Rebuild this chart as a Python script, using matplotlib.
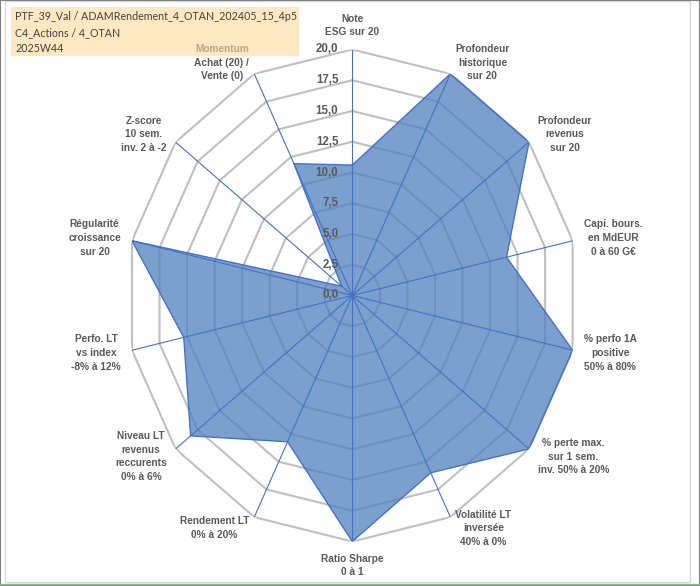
import numpy as np
import matplotlib
matplotlib.use('Agg')
from matplotlib import pyplot as plt
from matplotlib import patches, lines, transforms

# axes of the radar, clockwise from the top
categories = ['Note\nESG sur 20',
              'Profondeur\nhistorique\nsur 20',
              'Profondeur\nrevenus\nsur 20',
              'Capi. bours.\nen MdEUR\n0 à 60 G€',
              '% perfo 1A\npositive\n50% à 80%',
              '% perte max.\nsur 1 sem.\ninv. 50% à 20%',
              'Volatilité LT\ninversée\n40% à 0%',
              'Ratio Sharpe\n0 à 1',
              'Rendement LT\n0% à 20%',
              'Niveau LT\nrevenus\nreccurents\n0% à 6%',
              'Perfo. LT\nvs index\n-8% à 12%',
              'Régularité\ncroissance\nsur 20',
              'Z-score\n10 sem.\ninv. 2 à -2',
              'Momentum\nAchat (20) /\nVente (0)']
scores = [10.6, 20.0, 20.0, 14.0, 20.0, 20.0, 16.0, 20.0, 13.2, 18.3, 15.3, 20.0, 1.2, 11.9]
levels = [0.0, 2.5, 5.0, 7.5, 10.0, 12.5, 15.0, 17.5, 20.0]
title_lines = ['PTF_39_Val / ADAMRendement_4_OTAN_202405_15_4p5',
               'C4_Actions / 4_OTAN',
               '2025W44']

label_grey = '#595959'
fill_blue = '#4F81BD'
line_blue = '#4472C4'
grid_grey = '#BFBFBF'

W, H = 700, 586
fig = plt.figure(figsize=(W / 100, H / 100), dpi=100)
fig.patch.set_facecolor('white')

# plot area: the source image is squeezed horizontally, so the radar is an ellipse
cx, cy, rx, ry = 352.3, 295.5, 226, 246
ax = fig.add_axes([(cx - rx) / W, (H - cy - ry) / H, 2 * rx / W, 2 * ry / H],
                  projection='polar')
ax.set_aspect('auto')
ax.set_theta_zero_location('N')
ax.set_theta_direction(-1)
ax.set_ylim(0, 20)
ax.grid(False)
ax.set_xticks([])
ax.set_yticks([])
ax.spines['polar'].set_visible(False)
ax.patch.set_alpha(0)

n = len(categories)
angles = np.linspace(0, 2 * np.pi, n, endpoint=False)
closed = np.append(angles, angles[0])

for lvl in levels[1:]:
    ax.plot(closed, [lvl] * (n + 1), color=grid_grey, lw=1.5, zorder=1)

vals = np.append(scores, scores[0])
ax.fill(closed, vals, color=fill_blue, alpha=0.75, lw=0, zorder=2)
for a in angles:
    ax.plot([a, a], [0, 20], color=line_blue, lw=0.8, zorder=3)
ax.plot(closed, vals, color=line_blue, lw=1.0, zorder=4)

# category labels
for a, lab in zip(angles, categories):
    s = np.sin(a)
    if s > 0.1:
        ha, va = 'left', 'center'
    elif s < -0.1:
        ha, va = 'right', 'center'
    else:
        ha = 'center'
        va = 'bottom' if np.cos(a) > 0 else 'top'
    ax.text(a, 21, lab, ha=ha, va=va, multialignment='center',
            fontsize=7.3, fontweight='bold', color=label_grey,
            family='Liberation Sans', linespacing=1.45, clip_on=False, zorder=5)

# radial value labels, left of the vertical axis
tick_tr = transforms.offset_copy(ax.transData, fig=fig, x=-14, y=0, units='dots')
for lvl in levels:
    ax.text(0, lvl, f'{lvl:.1f}'.replace('.', ','), transform=tick_tr,
            ha='right', va='center', fontsize=8.3, fontweight='bold',
            color=label_grey, family='Liberation Sans', clip_on=False, zorder=5)

# title box (semi transparent, lies over the Momentum label)
fig.patches.append(patches.Rectangle((11 / W, 1 - 56 / H), 288 / W, 49 / H,
                                     transform=fig.transFigure, facecolor='#FCDA99',
                                     alpha=0.6, edgecolor='none', zorder=10))
for i, t in enumerate(title_lines):
    fig.text(15 / W, 1 - (16.7 + 15.8 * i) / H, t, ha='left', va='center',
             fontsize=7.7, color='#404040', family='Lato', zorder=11)

# chart borders
fig.patches.append(patches.Rectangle((5 / W, 4 / H), 685 / W, 581 / H,
                                     transform=fig.transFigure, fill=False,
                                     edgecolor='#D9D9D9', lw=1.0, zorder=0))
fig.lines.append(lines.Line2D([0, 1], [2.5 / H, 2.5 / H], transform=fig.transFigure,
                              color='#8FBC8F', lw=1.0))
fig.patches.append(patches.Rectangle((0, 0), 1, 1, transform=fig.transFigure,
                                     fill=False, edgecolor='#7F7F7F', lw=1.5))

fig.savefig('out.png', dpi=100)
